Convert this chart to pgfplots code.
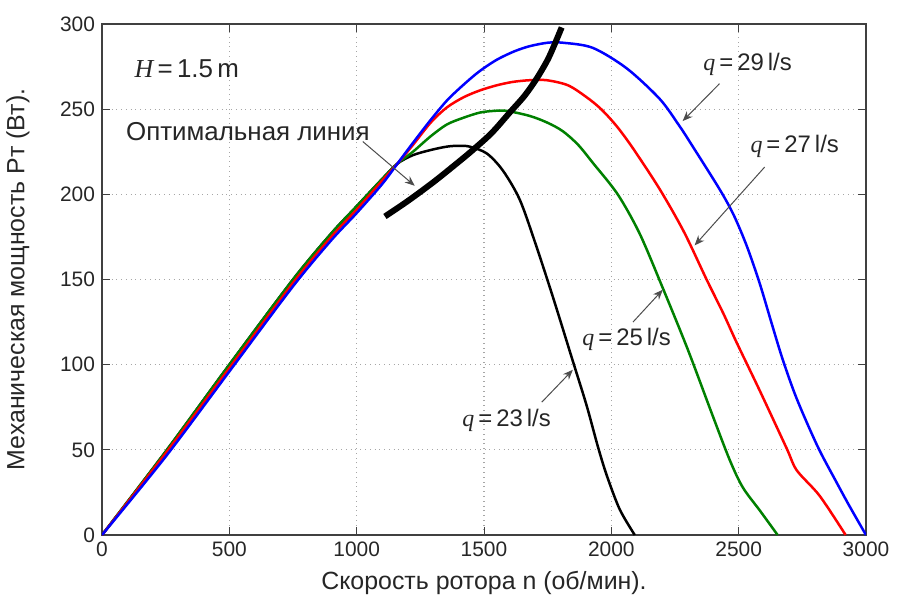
\documentclass[border=0pt]{standalone}
\usepackage{fontspec}
\setmainfont{Liberation Sans}
\newfontfamily\serif{Liberation Serif}
\usepackage{pgfplots}
\pgfplotsset{compat=1.18}
\usetikzlibrary{arrows.meta}

\begin{document}
\begin{tikzpicture}
\begin{axis}[
  name=ax,
  scale only axis,
  width=382bp, height=255.5bp,
  xmin=0, xmax=3000, ymin=0, ymax=300,
  xtick={0,500,...,3000}, ytick={0,50,...,300},
  grid=major,
  major grid style={dotted, gray!70, line width=0.6bp},
  axis line style={gray!50!black, line width=0.6bp},
  tick align=inside,
  major tick length=4bp,
  tick style={gray!50!black, line width=0.5bp},
  /pgf/number format/assume math mode=true,
  /pgf/number format/1000 sep={},
  ticklabel style={font=\fontsize{10.5}{12}\selectfont, text=black!85},
  xlabel={Скорость ротора n (об/мин).},
  ylabel={Механическая мощность Рт (Вт).},
  label style={font=\fontsize{12.5}{15}\selectfont, text=black!85},
  xlabel style={at={(axis description cs:0.5,-0.094)}, anchor=center},
  ylabel style={at={(axis description cs:-0.11,0.5)}, anchor=center},
]
% q = 23 l/s
\addplot[black, line width=1.25bp, smooth] coordinates {
(0,0) (250,49) (500,100) (750,150) (900,177) (1000,193) (1100,209) (1160,218) (1221,223) (1290,226)
(1354,228) (1400,228.5) (1444,228) (1511,224) (1574,214) (1640,197) (1700,172)
(1770,140) (1849,102) (1903,76) (1947,52) (1982,35) (2033,15) (2092,0)};
% q = 25 l/s
\addplot[green!50!black, line width=1.25bp, smooth] coordinates {
(0,0) (250,49) (500,100) (750,150) (900,177) (1000,193) (1100,209) (1160,218) (1221,225) (1290,234)
(1354,241) (1420,245) (1484,248) (1540,249) (1589,249) (1680,246) (1750,242)
(1810,237) (1870,229) (1930,218) (2025,200) (2111,177) (2202,145) (2300,109)
(2398,70) (2465,44) (2516,28) (2585,14) (2653,0)};
% q = 27 l/s
\addplot[red, line width=1.25bp, smooth] coordinates {
(0,0) (250,48) (500,98) (750,148) (900,175) (1000,191) (1100,208) (1160,218) (1221,229) (1290,242)
(1354,251) (1420,257) (1484,261) (1550,264) (1613,266) (1680,267) (1746,267)
(1830,264) (1903,257) (1960,250) (2021,240) (2085,227) (2190,203) (2285,178)
(2374,150) (2440,130) (2492,113) (2582,85) (2688,51) (2728,38) (2818,23) (2920,0)};
% q = 29 l/s
\addplot[blue, line width=1.25bp, smooth] coordinates {
(0,0) (250,46) (500,96) (750,146) (900,173) (1000,189) (1100,206) (1160,218) (1220,230) (1287,243)
(1354,255) (1417,264) (1480,272) (1550,279) (1620,284) (1680,287) (1750,289)
(1810,289) (1927,286) (2060,274) (2190,256) (2268,240) (2320,228) (2425,203)
(2480,188) (2531,170) (2582,148) (2630,124) (2673,103) (2728,80) (2810,52)
(2884,31) (2935,17) (3000,0)};
% optimal line
\addplot[black, line width=3bp, smooth] coordinates {
(1111,187) (1200,196) (1300,207) (1400,219) (1456,226) (1530,236) (1601,248)
(1660,258) (1707,268) (1750,279) (1780,289) (1805,298)};

% annotations
\node[font=\fontsize{13}{15}\selectfont, text=black!85] at (axis cs:333,274)
  {{\serif\itshape H}\,=\,1.5\,m};
\node[font=\fontsize{13}{15}\selectfont, text=black!85] at (axis cs:573,237)
  {Оптимальная линия};
\draw[-{Stealth[length=5bp,width=4bp]}, gray!60!black, line width=0.5bp]
  (axis cs:1024,231) -- (axis cs:1228,205);

\node[font=\fontsize{12}{14}\selectfont, text=black!85] at (axis cs:2535,276)
  {{\serif\itshape q}\,=\,29\,l/s};
\draw[-{Stealth[length=5bp,width=4bp]}, gray!60!black, line width=0.5bp]
  (axis cs:2425,265) -- (axis cs:2280,243);

\node[font=\fontsize{12}{14}\selectfont, text=black!85] at (axis cs:2720,228)
  {{\serif\itshape q}\,=\,27\,l/s};
\draw[-{Stealth[length=5bp,width=4bp]}, gray!60!black, line width=0.5bp]
  (axis cs:2602,216) -- (axis cs:2327,170);

\node[font=\fontsize{12}{14}\selectfont, text=black!85] at (axis cs:2060,115)
  {{\serif\itshape q}\,=\,25\,l/s};
\draw[-{Stealth[length=5bp,width=4bp]}, gray!60!black, line width=0.5bp]
  (axis cs:2085,125) -- (axis cs:2202,144);

\node[font=\fontsize{12}{14}\selectfont, text=black!85] at (axis cs:1589,67)
  {{\serif\itshape q}\,=\,23\,l/s};
\draw[-{Stealth[length=5bp,width=4bp]}, gray!60!black, line width=0.5bp]
  (axis cs:1727,78) -- (axis cs:1849,97);
\end{axis}
\pgfresetboundingbox
\path[use as bounding box] ([xshift=-51bp,yshift=-35bp]ax.south west) rectangle ([xshift=18.5bp,yshift=12bp]ax.north east);
\end{tikzpicture}
\end{document}
